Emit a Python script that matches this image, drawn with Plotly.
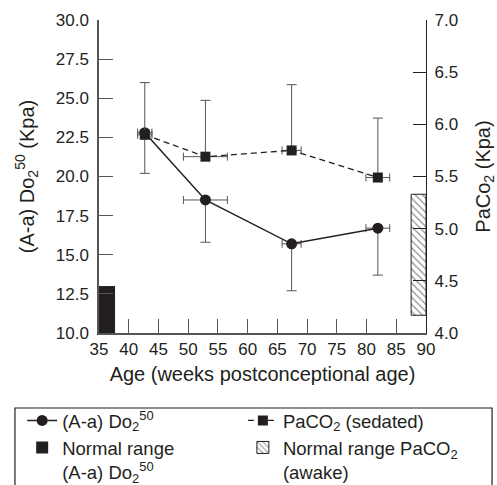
import plotly.graph_objects as go

# ---- data ----
age = [42.7, 52.9, 67.4, 81.9]
age_err_circ = [1.2, 3.7, 1.6, 2.0]
age_err_sq = [1.2, 3.7, 1.6, 2.0]

aado2 = [22.8, 18.5, 15.7, 16.7]           # (A-a) DO2 50, left axis
aado2_err_low = [2.6, 2.7, 3.0, 3.0]

paco2 = [5.90, 5.69, 5.75, 5.49]            # PaCO2 sedated, right axis
paco2_err_up = [0.50, 0.54, 0.63, 0.57]

norm_aado2_x = [35.0, 37.7]   # weeks span
norm_aado2_y = [10.0, 13.0]
norm_paco2_x = [87.5, 90.0]
norm_paco2_y = [4.17, 5.33]

x_ticks = list(range(35, 91, 5))
y_ticks = [10.0, 12.5, 15.0, 17.5, 20.0, 22.5, 25.0, 27.5, 30.0]
y2_ticks = [4.0, 4.5, 5.0, 5.5, 6.0, 6.5, 7.0]

FONT = "Liberation Sans, Arial, Helvetica, sans-serif"
INK = "#231f20"
GREY = "#555555"

fig = go.Figure()

fig.add_trace(go.Scatter(
    x=age, y=aado2, mode="lines+markers",
    name="(A-a) Do<sub>2</sub><sup>50</sup>",
    line=dict(color=INK, width=1.5),
    marker=dict(symbol="circle", size=11, color=INK),
    error_y=dict(type="data", symmetric=False, array=[0]*4, arrayminus=aado2_err_low,
                 color=GREY, thickness=1, width=5),
    error_x=dict(type="data", array=age_err_circ, color=GREY, thickness=1, width=4),
    yaxis="y", cliponaxis=False, legend="legend",
))

fig.add_trace(go.Scatter(
    x=age, y=paco2, mode="lines+markers",
    name="PaCO<sub>2</sub> (sedated)",
    line=dict(color=INK, width=1.3, dash="6px,4px"),
    marker=dict(symbol="square", size=10, color=INK),
    error_y=dict(type="data", symmetric=False, array=paco2_err_up, arrayminus=[0]*4,
                 color=GREY, thickness=1, width=5),
    error_x=dict(type="data", array=age_err_sq, color=GREY, thickness=1, width=4),
    yaxis="y2", cliponaxis=False, legend="legend2",
))

fig.add_trace(go.Bar(
    x=[(norm_aado2_x[0] + norm_aado2_x[1]) / 2],
    y=[norm_aado2_y[1] - norm_aado2_y[0]],
    base=[norm_aado2_y[0]],
    width=[norm_aado2_x[1] - norm_aado2_x[0]],
    name="Normal range<br>(A-a) Do<sub>2</sub><sup>50</sup>",
    marker=dict(color=INK, line=dict(width=0)),
    yaxis="y", legend="legend",
))

fig.add_trace(go.Bar(
    x=[(norm_paco2_x[0] + norm_paco2_x[1]) / 2],
    y=[norm_paco2_y[1] - norm_paco2_y[0]],
    base=[norm_paco2_y[0]],
    width=[norm_paco2_x[1] - norm_paco2_x[0]],
    name="Normal range PaCO<sub>2</sub><br>(awake)",
    marker=dict(color="white", line=dict(color=INK, width=1),
                pattern=dict(shape="\\", fgcolor=INK, bgcolor="white", size=5, solidity=0.25)),
    yaxis="y2", legend="legend2",
))

legend_common = dict(
    orientation="v", xanchor="left", yanchor="top",
    borderwidth=0, bgcolor="rgba(0,0,0,0)",
    font=dict(size=18.5), itemwidth=30, valign="top", tracegroupgap=0,
)

fig.update_layout(
    width=497, height=485,
    margin=dict(l=99, r=71, t=20, b=152, autoexpand=False),
    paper_bgcolor="white", plot_bgcolor="white",
    font=dict(family=FONT, size=17, color=INK),
    barmode="overlay",
    xaxis=dict(
        range=[35, 90], tickvals=x_ticks, ticks="inside", ticklen=14, tickcolor=GREY,
        showline=True, linecolor=GREY, linewidth=1.5, showgrid=False, zeroline=False,
        tickfont=dict(size=17), ticklabelstandoff=0,
        title=dict(text="Age (weeks postconceptional age)", font=dict(size=20), standoff=9),
    ),
    yaxis=dict(
        range=[10, 30], tickvals=y_ticks, tickformat=".1f", ticks="inside", ticklen=14,
        tickcolor=GREY, showline=True, linecolor=GREY, linewidth=1.5, showgrid=False,
        zeroline=False, tickfont=dict(size=17), ticklabelstandoff=5,
        title=dict(text="(A-a) Do<sub>2</sub><sup>50</sup> (Kpa)", font=dict(size=20), standoff=16),
    ),
    yaxis2=dict(
        range=[4, 7], tickvals=y2_ticks, tickformat=".1f", ticks="inside", ticklen=13,
        tickcolor=INK, showline=True, linecolor=INK, linewidth=1.2, showgrid=False,
        zeroline=False, overlaying="y", side="right", tickfont=dict(size=17),
        ticklabelstandoff=4,
        title=dict(text="PaCo<sub>2</sub> (Kpa)", font=dict(size=20), standoff=18),
    ),
    legend=dict(x=-0.235, y=-0.22, **legend_common),
    legend2=dict(x=0.44, y=-0.22, **legend_common),
    shapes=[dict(
        type="rect", xref="paper", yref="paper",
        x0=-0.257, x1=1.202, y0=-0.56, y1=-0.2396,
        line=dict(color=INK, width=1.2), fillcolor="rgba(0,0,0,0)", layer="above",
    )],
    showlegend=True,
)

fig.write_html("out.html")
